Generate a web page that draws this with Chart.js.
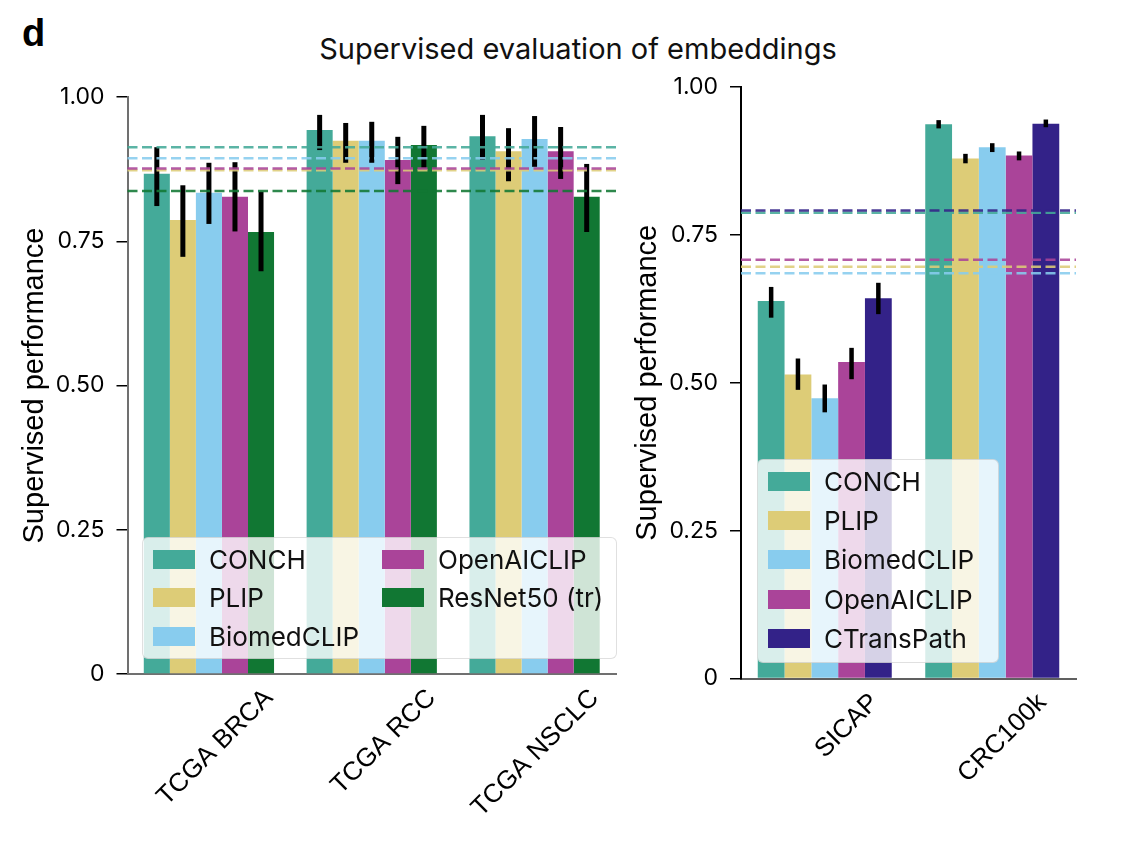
<!DOCTYPE html>
<html>
<head>
<meta charset="utf-8">
<script src="https://cdn.jsdelivr.net/npm/chart.js@4.4.0/dist/chart.umd.min.js"></script>
<style>
  body { margin: 0; background: #fff; width: 1124px; height: 842px; position: relative; overflow: hidden; font-family: Inter, sans-serif; }
  canvas { position: absolute; top: 0; }
  #leftChart { left: 0; }
  #rightChart { left: 600px; }
  .panel-letter { position: absolute; left: 22px; top: 12px; font: bold 38px "Liberation Sans", Arial, sans-serif; }
  .suptitle { position: absolute; left: 0; width: 1156px; top: 31px; text-align: center; font-size: 29px; color: #111; }
  .legend { position: absolute; background: rgba(255,255,255,0.8); border: 1px solid rgba(0,0,0,0.12); border-radius: 6px; box-sizing: border-box; font-size: 26px; color: #111; }
  .legend .item { position: absolute; display: flex; align-items: center; height: 38px; }
  .legend .sw { width: 42px; height: 19px; margin-right: 14px; }
</style>
</head>
<body>
<div class="panel-letter">d</div>
<div class="suptitle">Supervised evaluation of embeddings</div>
<canvas id="leftChart" width="640" height="842"></canvas>
<canvas id="rightChart" width="524" height="842"></canvas>
<div class="legend" id="leftLegend" style="left:142px; top:537px; width:475px; height:122px;"></div>
<div class="legend" id="rightLegend" style="left:757px; top:459px; width:242px; height:204px;"></div>
<script>
// ---- left panel: TCGA slide tasks ----
const leftCategories = ['TCGA BRCA', 'TCGA RCC', 'TCGA NSCLC'];
const leftModels = ['CONCH', 'PLIP', 'BiomedCLIP', 'OpenAICLIP', 'ResNet50 (tr)'];

const leftConch = [0.867, 0.943, 0.932];
const leftConchLo = [0.811, 0.908, 0.891];
const leftConchHi = [0.913, 0.969, 0.969];

const leftPlip = [0.787, 0.924, 0.906];
const leftPlipLo = [0.723, 0.886, 0.854];
const leftPlipHi = [0.847, 0.955, 0.946];

const leftBiomed = [0.834, 0.924, 0.927];
const leftBiomedLo = [0.780, 0.886, 0.879];
const leftBiomedHi = [0.886, 0.957, 0.967];

const leftOpenai = [0.827, 0.891, 0.906];
const leftOpenaiLo = [0.767, 0.849, 0.858];
const leftOpenaiHi = [0.887, 0.931, 0.948];

const leftResnet = [0.766, 0.917, 0.827];
const leftResnetLo = [0.698, 0.877, 0.766];
const leftResnetHi = [0.836, 0.950, 0.884];

// dashed reference lines (one per model, same order)
const leftBaselines = [0.913, 0.873, 0.894, 0.876, 0.837];

// ---- right panel: tile tasks ----
const rightCategories = ['SICAP', 'CRC100k'];
const rightModels = ['CONCH', 'PLIP', 'BiomedCLIP', 'OpenAICLIP', 'CTransPath'];

const rightConch = [0.638, 0.937];
const rightConchLo = [0.610, 0.930];
const rightConchHi = [0.662, 0.944];

const rightPlip = [0.514, 0.879];
const rightPlipLo = [0.488, 0.871];
const rightPlipHi = [0.541, 0.887];

const rightBiomed = [0.474, 0.898];
const rightBiomedLo = [0.450, 0.890];
const rightBiomedHi = [0.497, 0.905];

const rightOpenai = [0.535, 0.884];
const rightOpenaiLo = [0.506, 0.876];
const rightOpenaiHi = [0.559, 0.891];

const rightCtrans = [0.643, 0.938];
const rightCtransLo = [0.616, 0.932];
const rightCtransHi = [0.669, 0.945];

const rightBaselines = [0.7875, 0.696, 0.685, 0.708, 0.791];

const yTicks = [0, 0.25, 0.5, 0.75, 1];

const leftColors = ['#44AA99', '#DDCC77', '#88CCEE', '#AA4499', '#117733'];
const rightColors = ['#44AA99', '#DDCC77', '#88CCEE', '#AA4499', '#332288'];

// black error bars, drawn right after each bar dataset
const errorBars = {
    id: 'errorBars',
    afterDatasetDraw(chart, args, opts) {
        const ds = chart.data.datasets[args.index];
        if (!ds.errLow) return;
        const yScale = chart.scales.y;
        const ctx = chart.ctx;
        ctx.save();
        ctx.strokeStyle = '#000';
        ctx.lineWidth = opts.width || 5;
        args.meta.data.forEach((bar, i) => {
            ctx.beginPath();
            ctx.moveTo(bar.x, yScale.getPixelForValue(ds.errLow[i]));
            ctx.lineTo(bar.x, yScale.getPixelForValue(ds.errHigh[i]));
            ctx.stroke();
        });
        ctx.restore();
    }
};

// dashed horizontal lines across the whole plot area
const baselineLines = {
    id: 'baselineLines',
    afterDatasetsDraw(chart, args, opts) {
        const yScale = chart.scales.y;
        const area = chart.chartArea;
        const ctx = chart.ctx;
        ctx.save();
        ctx.lineWidth = 2.5;
        ctx.setLineDash([10, 4.5]);
        opts.values.forEach((v, i) => {
            const y = yScale.getPixelForValue(v);
            ctx.strokeStyle = opts.colors[i] + 'E0';
            ctx.beginPath();
            ctx.moveTo(area.left, y);
            ctx.lineTo(area.right, y);
            ctx.stroke();
        });
        ctx.restore();
    }
};

function buildChart(canvasId, categories, models, colors, series, baselines, cfg) {
    const datasets = series.map((s, i) => ({
        label: models[i],
        data: s[0],
        errLow: s[1],
        errHigh: s[2],
        backgroundColor: colors[i],
        borderWidth: 0,
        categoryPercentage: 0.8,
        barPercentage: 1.0
    }));

    return new Chart(document.getElementById(canvasId), {
        type: 'bar',
        data: { labels: categories, datasets: datasets },
        options: {
            responsive: false,
            animation: false,
            layout: { padding: cfg.padding },
            plugins: {
                legend: { display: false },
                tooltip: { enabled: false },
                errorBars: { width: cfg.errWidth },
                baselineLines: { values: baselines, colors: colors }
            },
            scales: {
                x: {
                    grid: { display: true, drawOnChartArea: false, drawTicks: false },
                    border: { display: true, color: cfg.xAxisColor, width: 2 },
                    ticks: {
                        autoSkip: false,
                        minRotation: 45,
                        maxRotation: 45,
                        labelOffset: cfg.labelOffset,
                        padding: 9,
                        color: '#000',
                        font: { family: 'Liberation Sans', size: 26 }
                    },
                    afterFit(scale) { scale.height = 145; }
                },
                y: {
                    min: 0,
                    max: 1,
                    afterBuildTicks(scale) { scale.ticks = yTicks.map(v => ({ value: v })); },
                    ticks: {
                        padding: 12,
                        color: '#000',
                        font: { family: 'Inter', size: 23 },
                        callback: v => v === 0 ? '0' : v.toFixed(2)
                    },
                    grid: { display: true, drawOnChartArea: false, drawTicks: true, tickLength: 11, color: '#000', lineWidth: 1.5 },
                    border: { display: true, color: cfg.yAxisColor, width: 2 },
                    title: {
                        display: true,
                        text: 'Supervised performance',
                        color: '#000',
                        padding: 0,
                        font: { family: 'Liberation Sans', size: 29 }
                    },
                    afterFit(scale) { scale.width = 110; }
                }
            }
        },
        plugins: [errorBars, baselineLines]
    });
}

buildChart('leftChart', leftCategories, leftModels, leftColors, [
    [leftConch, leftConchLo, leftConchHi],
    [leftPlip, leftPlipLo, leftPlipHi],
    [leftBiomed, leftBiomedLo, leftBiomedHi],
    [leftOpenai, leftOpenaiLo, leftOpenaiHi],
    [leftResnet, leftResnetLo, leftResnetHi]
], leftBaselines, {
    padding: { top: 97, left: 17.5, right: 24, bottom: 23 },
    labelOffset: 60,
    errWidth: 5,
    xAxisColor: '#707070',
    yAxisColor: '#707070'
});

buildChart('rightChart', rightCategories, rightModels, rightColors, [
    [rightConch, rightConchLo, rightConchHi],
    [rightPlip, rightPlipLo, rightPlipHi],
    [rightBiomed, rightBiomedLo, rightBiomedHi],
    [rightOpenai, rightOpenaiLo, rightOpenaiHi],
    [rightCtrans, rightCtransLo, rightCtransHi]
], rightBaselines, {
    padding: { top: 87, left: 31, right: 48, bottom: 18.5 },
    labelOffset: 50,
    errWidth: 4.5,
    xAxisColor: '#606060',
    yAxisColor: '#000'
});

// legends drawn as html boxes over the plot area
function fillLegend(el, models, colors, rowsPerCol, colWidth, rowHeight) {
    models.forEach((m, i) => {
        const col = Math.floor(i / rowsPerCol);
        const row = i % rowsPerCol;
        const item = document.createElement('div');
        item.className = 'item';
        item.style.left = (10 + col * colWidth) + 'px';
        item.style.top = (2 + row * rowHeight) + 'px';
        item.innerHTML = '<span class="sw" style="background:' + colors[i] + '"></span><span>' + m + '</span>';
        el.appendChild(item);
    });
}

fillLegend(document.getElementById('leftLegend'), leftModels, leftColors, 3, 229, 38.5);
fillLegend(document.getElementById('rightLegend'), rightModels, rightColors, 5, 0, 39.4);
</script>
</body>
</html>
